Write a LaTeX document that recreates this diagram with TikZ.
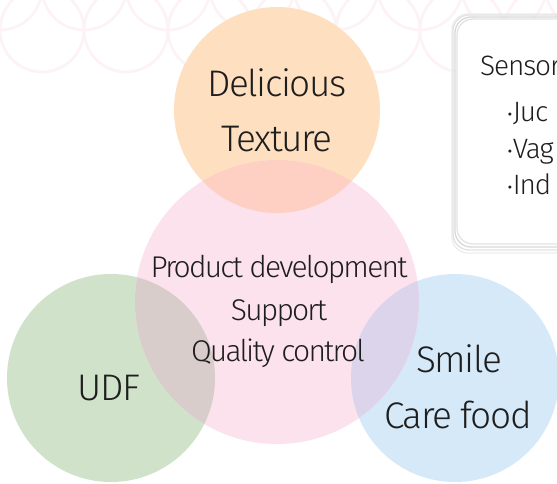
\documentclass[tikz,border=0pt]{standalone}
\usepackage{fontspec}
\setmainfont{Fira Sans Light}
\definecolor{patC}{HTML}{FDF3F6}
\definecolor{orangeC}{HTML}{FEE0C0}
\definecolor{pinkC}{HTML}{FBE2EC}
\definecolor{greenC}{HTML}{D0E2CA}
\definecolor{blueC}{HTML}{D6E9F8}
\definecolor{gpC}{HTML}{D8CDCA}
\definecolor{bpC}{HTML}{DCD4EA}
\definecolor{opC}{HTML}{FED0C3}
\definecolor{txtC}{HTML}{1E1E1E}
\begin{document}
\begin{tikzpicture}[x=1pt,y=-1pt,
  pat/.style={draw=patC, line width=2.8pt},
  big/.style={text=txtC, font=\fontsize{37}{37}\selectfont\addfontfeature{LetterSpace=-4}, anchor=base, inner sep=0pt},
  mid/.style={text=txtC, font=\fontsize{30}{30}\selectfont\addfontfeature{LetterSpace=-6}, anchor=base, inner sep=0pt},
  small/.style={text=txtC, font=\fontsize{28}{28}\selectfont\addfontfeature{LetterSpace=-4}, anchor=base west, inner sep=0pt},
  boxline/.style={rounded corners=16pt, line width=1.3pt}]
\useasboundingbox (0,0) rectangle (557,484);
\clip (0,0) rectangle (557,484);
\fill[white] (0,0) rectangle (557,484);
% background pattern
\foreach \k in {0,...,7} {
  \draw[pat] (84*\k+42,30) circle[radius=42pt];
  \draw[pat] (84*\k,-12) circle[radius=42pt];
}
% sensory box
\draw[boxline, draw=black!7] (452,14) rectangle (640,253);
\draw[boxline, draw=black!11] (453,15) rectangle (640,250);
\draw[boxline, draw=black!15] (455,17) rectangle (640,247);
\draw[boxline, draw=black!11, fill=white] (457,19) rectangle (640,244);
% circles
\coordinate (cO) at (277,110);
\coordinate (cP) at (277,302);
\coordinate (cG) at (111,378);
\coordinate (cB) at (455,378);
\fill[greenC] (cG) circle[radius=104pt];
\fill[blueC] (cB) circle[radius=104pt];
\fill[orangeC] (cO) circle[radius=103pt];
\fill[pinkC] (cP) circle[radius=142pt];
\begin{scope}
  \clip (cP) circle[radius=142pt];
  \fill[opC] (cO) circle[radius=103pt];
  \fill[gpC] (cG) circle[radius=104pt];
  \fill[bpC] (cB) circle[radius=104pt];
\end{scope}
% texts
\node[big] (t1) at (277,97) {Delicious};
\node[big] (t2) at (277,152) {Texture};
\node[mid] (t3) at (279,277) {Product development};
\node[mid] (t4) at (279,320) {Support};
\node[mid] (t5) at (278,361) {Quality control};
\node[big] (t6) at (109,400) {UDF};
\node[big] (t7) at (459,372) {Smile};
\node[big] (t8) at (458,428) {Care food};
\node[small] (s0) at (480,76) {Sensor};
\node[small] (s1) at (507,122) {{\fontsize{20}{20}\selectfont •}Juc};
\node[small] (s2) at (507,158) {{\fontsize{20}{20}\selectfont •}Vag};
\node[small] (s3) at (507,194) {{\fontsize{20}{20}\selectfont •}Ind};
\end{tikzpicture}
\end{document}
